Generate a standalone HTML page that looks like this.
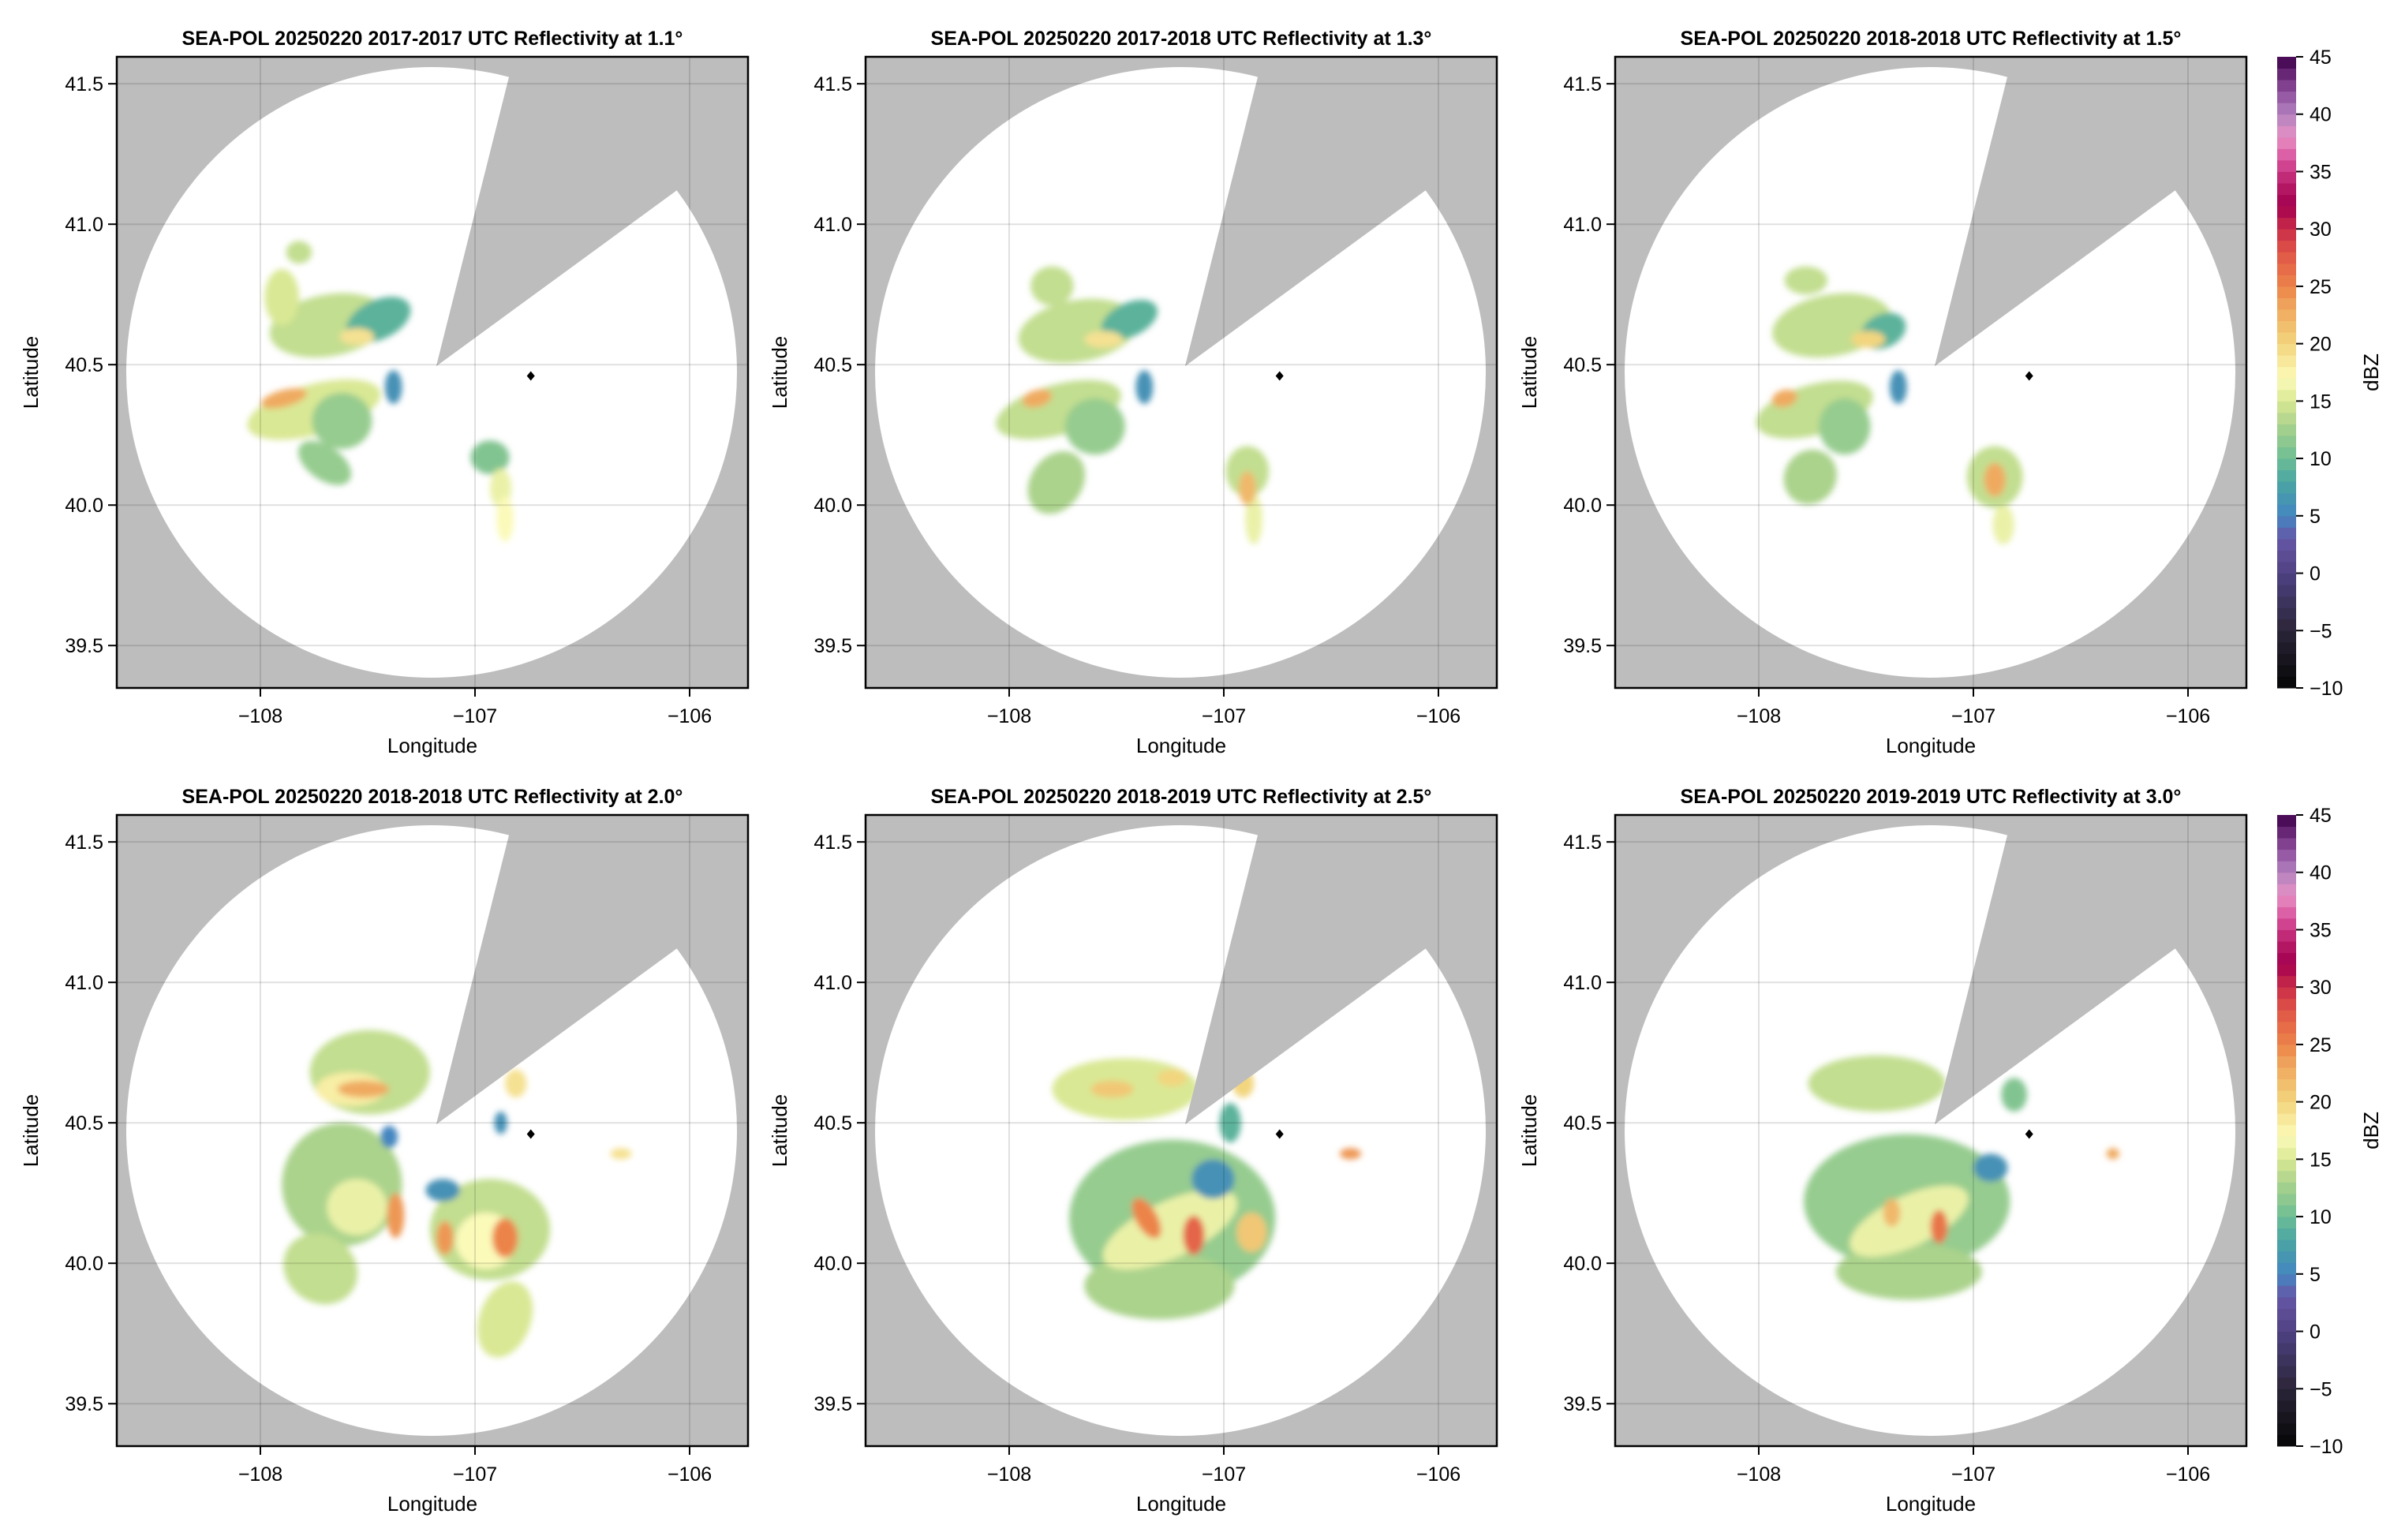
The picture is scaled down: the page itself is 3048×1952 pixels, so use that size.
<!DOCTYPE html>
<html><head><meta charset="utf-8">
<style>
html,body{margin:0;padding:0;background:#fff;}
svg{display:block;font-family:"Liberation Sans",Arial,sans-serif;}
</style></head>
<body>
<svg id="fig" width="3048" height="1952" viewBox="0 0 3048 1952" xmlns="http://www.w3.org/2000/svg">
<defs>
<filter id="soft" x="-10%" y="-10%" width="120%" height="120%"><feGaussianBlur stdDeviation="4"/></filter>
</defs>
</svg>
<script>
// ---- data ----
const panelTitles = [
 "SEA-POL 20250220 2017-2017 UTC Reflectivity at 1.1°",
 "SEA-POL 20250220 2017-2018 UTC Reflectivity at 1.3°",
 "SEA-POL 20250220 2018-2018 UTC Reflectivity at 1.5°",
 "SEA-POL 20250220 2018-2018 UTC Reflectivity at 2.0°",
 "SEA-POL 20250220 2018-2019 UTC Reflectivity at 2.5°",
 "SEA-POL 20250220 2019-2019 UTC Reflectivity at 3.0°"
];
const lonTicks = [-108, -107, -106];
const latTicks = [39.5, 40.0, 40.5, 41.0, 41.5];
const cbarTicks = [-10, -5, 0, 5, 10, 15, 20, 25, 30, 35, 40, 45];
const markerLon = -106.74;
const markerLat = 40.46;
// echo cells per panel: [lon, lat, halfWidthDeg, halfHeightDeg, rotationDeg, dBZ]
const echoes1 = [
 [-107.68,40.64,0.28,0.11,-10,14],[-107.90,40.74,0.08,0.10,0,15],[-107.82,40.90,0.06,0.04,0,14],
 [-107.45,40.66,0.16,0.07,-25,9],[-107.75,40.34,0.32,0.09,-15,15],[-107.62,40.30,0.14,0.10,0,12],
 [-107.70,40.15,0.14,0.06,35,12],[-107.38,40.42,0.04,0.06,0,6],[-107.55,40.60,0.08,0.03,0,19],
 [-107.89,40.38,0.11,0.03,-15,23],[-106.93,40.17,0.09,0.06,0,11],[-106.88,40.06,0.05,0.07,0,16],
 [-106.86,39.95,0.04,0.08,0,17]
];
const echoes2 = [
 [-107.68,40.62,0.28,0.11,-10,14],[-107.80,40.78,0.10,0.07,0,14],[-107.44,40.66,0.14,0.06,-25,9],
 [-107.77,40.34,0.30,0.09,-15,14],[-107.60,40.28,0.14,0.10,0,12],[-107.78,40.08,0.12,0.12,35,13],
 [-107.37,40.42,0.04,0.06,0,6],[-107.56,40.59,0.09,0.03,0,19],[-107.87,40.38,0.07,0.03,-15,23],
 [-106.89,40.12,0.10,0.09,0,14],[-106.86,39.95,0.04,0.09,0,16],[-106.89,40.06,0.04,0.06,0,22]
];
const echoes3 = [
 [-107.66,40.64,0.28,0.11,-10,14],[-107.78,40.80,0.10,0.05,0,14],[-107.42,40.62,0.11,0.06,-25,9],
 [-107.74,40.34,0.28,0.09,-15,14],[-107.60,40.28,0.12,0.10,0,12],[-107.76,40.10,0.12,0.10,35,13],
 [-107.35,40.42,0.04,0.06,0,6],[-107.49,40.59,0.08,0.03,0,20],[-107.88,40.38,0.06,0.03,-15,23],
 [-106.90,40.10,0.13,0.11,0,14],[-106.86,39.93,0.05,0.07,0,16],[-106.90,40.09,0.05,0.06,0,23]
];
const echoes4 = [
 [-107.49,40.68,0.28,0.15,0,14],[-107.58,40.62,0.16,0.06,0,18],[-107.62,40.28,0.28,0.22,0,13],
 [-107.55,40.20,0.14,0.10,0,16],[-107.72,39.98,0.18,0.12,35,14],[-106.93,40.12,0.28,0.18,0,14],
 [-106.95,40.08,0.14,0.10,0,17],[-106.86,39.80,0.12,0.14,20,15],[-107.15,40.26,0.08,0.04,0,6],
 [-107.40,40.45,0.04,0.04,0,5],[-106.81,40.64,0.05,0.05,0,19],[-106.88,40.50,0.03,0.04,0,6],
 [-106.32,40.39,0.05,0.02,0,19],[-107.52,40.62,0.12,0.03,0,23],[-107.37,40.17,0.04,0.08,0,24],
 [-106.86,40.09,0.06,0.07,0,25],[-107.14,40.09,0.04,0.06,0,24]
];
const echoes5 = [
 [-107.46,40.62,0.34,0.11,0,15],[-107.24,40.16,0.48,0.28,0,12],[-107.30,39.92,0.35,0.12,0,13],
 [-107.25,40.12,0.34,0.10,-25,16],[-107.05,40.30,0.10,0.07,0,6],[-106.97,40.50,0.05,0.07,0,9],
 [-106.91,40.64,0.05,0.05,0,20],[-106.41,40.39,0.05,0.02,0,24],[-107.52,40.62,0.10,0.03,0,21],
 [-107.24,40.66,0.07,0.03,0,20],[-107.36,40.16,0.05,0.08,-30,25],[-107.14,40.10,0.05,0.07,0,27],
 [-106.87,40.11,0.07,0.07,0,21]
];
const echoes6 = [
 [-107.45,40.64,0.32,0.10,0,14],[-107.31,40.22,0.48,0.24,0,12],[-107.30,39.97,0.34,0.10,0,13],
 [-107.30,40.15,0.30,0.09,-25,16],[-106.92,40.34,0.08,0.05,0,6],[-106.81,40.60,0.06,0.06,0,11],
 [-106.35,40.39,0.03,0.02,0,23],[-107.16,40.13,0.04,0.06,0,26],[-107.38,40.18,0.04,0.05,0,22]
];
const allEchoes = [echoes1, echoes2, echoes3, echoes4, echoes5, echoes6];

// ---- layout ----
const NS = "http://www.w3.org/2000/svg";
const svg = document.getElementById('fig');
const lefts = [148, 1097, 2047];
const tops = [72, 1033];
const W = 800, H = 800;
const lonMin = -108.669, lonMax = -105.728, latMin = 39.349, latMax = 41.596;
const cbX = 2886, cbW = 24;

const cstops = [[-10,'#050505'],[-5,'#2b2538'],[0,'#4f4282'],[3,'#6656a6'],[5,'#4486c0'],[8,'#4aa6a2'],[10,'#6dbd94'],[13,'#abd38c'],[15,'#d9e894'],[17,'#fbfab9'],[20,'#f2d57e'],[23,'#efaa60'],[25,'#ec8449'],[28,'#e05547'],[30,'#c92d48'],[32,'#a3004f'],[34,'#b81d6a'],[36,'#d8509a'],[38,'#e690c4'],[40,'#b282be'],[42,'#8e4e9c'],[44,'#5a1a68'],[45,'#3c0048']];
function hex(c){return [parseInt(c.slice(1,3),16),parseInt(c.slice(3,5),16),parseInt(c.slice(5,7),16)];}
function cmap(v){
 if(v<=cstops[0][0]) return cstops[0][1];
 for(let i=1;i<cstops.length;i++){
  if(v<=cstops[i][0]){const a=cstops[i-1],b=cstops[i];const t=(v-a[0])/(b[0]-a[0]);
   const A=hex(a[1]),B=hex(b[1]);return 'rgb('+A.map((x,k)=>Math.round(x+(B[k]-x)*t)).join(',')+')';}
 }
 return cstops[cstops.length-1][1];
}
function mk(tag, attrs, parent){const e=document.createElementNS(NS,tag);for(const k in attrs)e.setAttribute(k,attrs[k]);(parent||svg).appendChild(e);return e;}

for(let p=0;p<6;p++){
 const L = lefts[p%3], T = tops[Math.floor(p/3)];
 const xs = lon => L + (lon-lonMin)/(lonMax-lonMin)*W;
 const ys = lat => T + (latMax-lat)/(latMax-latMin)*H;
 const g = mk('g',{});
 
 
 const clipId='clip'+p;
 const cp = mk('clipPath',{id:clipId},g);
 mk('rect',{x:L,y:T,width:W,height:H},cp);
 const bg = mk('rect',{x:L,y:T,width:W,height:H,fill:'#bdbdbd'},g);
 
 
 const cx=L+399, cy=T+400, r=387;
 const cc = mk('clipPath',{id:'circ'+p},g);
 mk('circle',{cx:cx,cy:cy,r:r},cc);
 const disk = mk('circle',{cx:cx,cy:cy,r:r,fill:'#fff'},g);
 
 
 const ax=L+405, ay=T+392;
 const d1=[92,-366], d2=[305,-223], k=3;
 const wpts=`${ax},${ay} ${ax+d1[0]*k},${ay+d1[1]*k} ${ax+d2[0]*k},${ay+d2[1]*k}`;
 const wedge = mk('polygon',{points:wpts,fill:'#bdbdbd','clip-path':`url(#${clipId})`},g);
 
 
 const eg = mk('g',{'clip-path':`url(#circ${p})`},g);
 const eg2 = mk('g',{filter:'url(#soft)'},eg);
 
 
 const arr = allEchoes[p];
 arr.forEach(c=>{
  const ex=xs(c[0]), ey=ys(c[1]);
  const rx=c[2]/(lonMax-lonMin)*W, ry=c[3]/(latMax-latMin)*H;
  const el = mk('ellipse',{cx:ex,cy:ey,rx:rx,ry:ry,fill:cmap(c[5]),transform:`rotate(${c[4]} ${ex} ${ey})`},eg2);
  
  
 });
 mk('polygon',{points:wpts,fill:'#bdbdbd','clip-path':`url(#${clipId})`},g);
 lonTicks.forEach(v=>{const x=xs(v);const gl=mk('line',{x1:x,x2:x,y1:T,y2:T+H,stroke:'rgba(0,0,0,0.12)','stroke-width':2},g);
  
  mk('line',{x1:x,x2:x,y1:T+H,y2:T+H+11,stroke:'#000','stroke-width':2},g);
  const t=mk('text',{x:x,y:T+H+44,'font-size':25,'text-anchor':'middle'},g);t.textContent='\u2212'+Math.abs(v);
  });
 latTicks.forEach(v=>{const y=ys(v);const gl=mk('line',{x1:L,x2:L+W,y1:y,y2:y,stroke:'rgba(0,0,0,0.12)','stroke-width':2},g);
  
  mk('line',{x1:L-11,x2:L,y1:y,y2:y,stroke:'#000','stroke-width':2},g);
  const t=mk('text',{x:L-17,y:y+9,'font-size':25,'text-anchor':'end'},g);t.textContent=v.toFixed(1);
  });
 const mx=xs(markerLon), my=ys(markerLat);
 const mkr=mk('polygon',{points:`${mx},${my-6} ${mx+5},${my} ${mx},${my+6} ${mx-5},${my}`,fill:'#000'},g);
 
 
 const fr=mk('rect',{x:L,y:T,width:W,height:H,fill:'none',stroke:'#000','stroke-width':2.5},g);
 
 
 const tt=mk('text',{x:L+W/2,y:T-15,'font-size':25,'font-weight':'bold','text-anchor':'middle'},g);tt.textContent=panelTitles[p];
 
 const xl=mk('text',{x:L+W/2,y:T+H+82,'font-size':26,'text-anchor':'middle'},g);xl.textContent='Longitude';
 
 const yl=mk('text',{x:0,y:0,'font-size':26,'text-anchor':'middle',transform:`translate(${L-100},${T+H/2}) rotate(-90)`},g);yl.textContent='Latitude';
 
}
tops.forEach((T,i)=>{
 const g=mk('g',{});
 
 
 const n=55, h=800/n;
 for(let j=0;j<n;j++){
  const v=-10+j+0.5;
  mk('rect',{x:cbX,y:T+800-(j+1)*h,width:cbW,height:h+0.5,fill:cmap(v)},g);
 }
 cbarTicks.forEach(v=>{const y=T+800-(v+10)/55*800;
  mk('line',{x1:cbX+cbW,x2:cbX+cbW+9,y1:y,y2:y,stroke:'#000','stroke-width':2},g);
  const t=mk('text',{x:cbX+cbW+17,y:y+9,'font-size':25},g);t.textContent=(v<0?'\u2212':'')+Math.abs(v);
  });
 const lb=mk('text',{x:0,y:0,'font-size':26,'text-anchor':'middle',transform:`translate(${3014},${T+400}) rotate(-90)`},g);lb.textContent='dBZ';
 
});
</script>
</body></html>
